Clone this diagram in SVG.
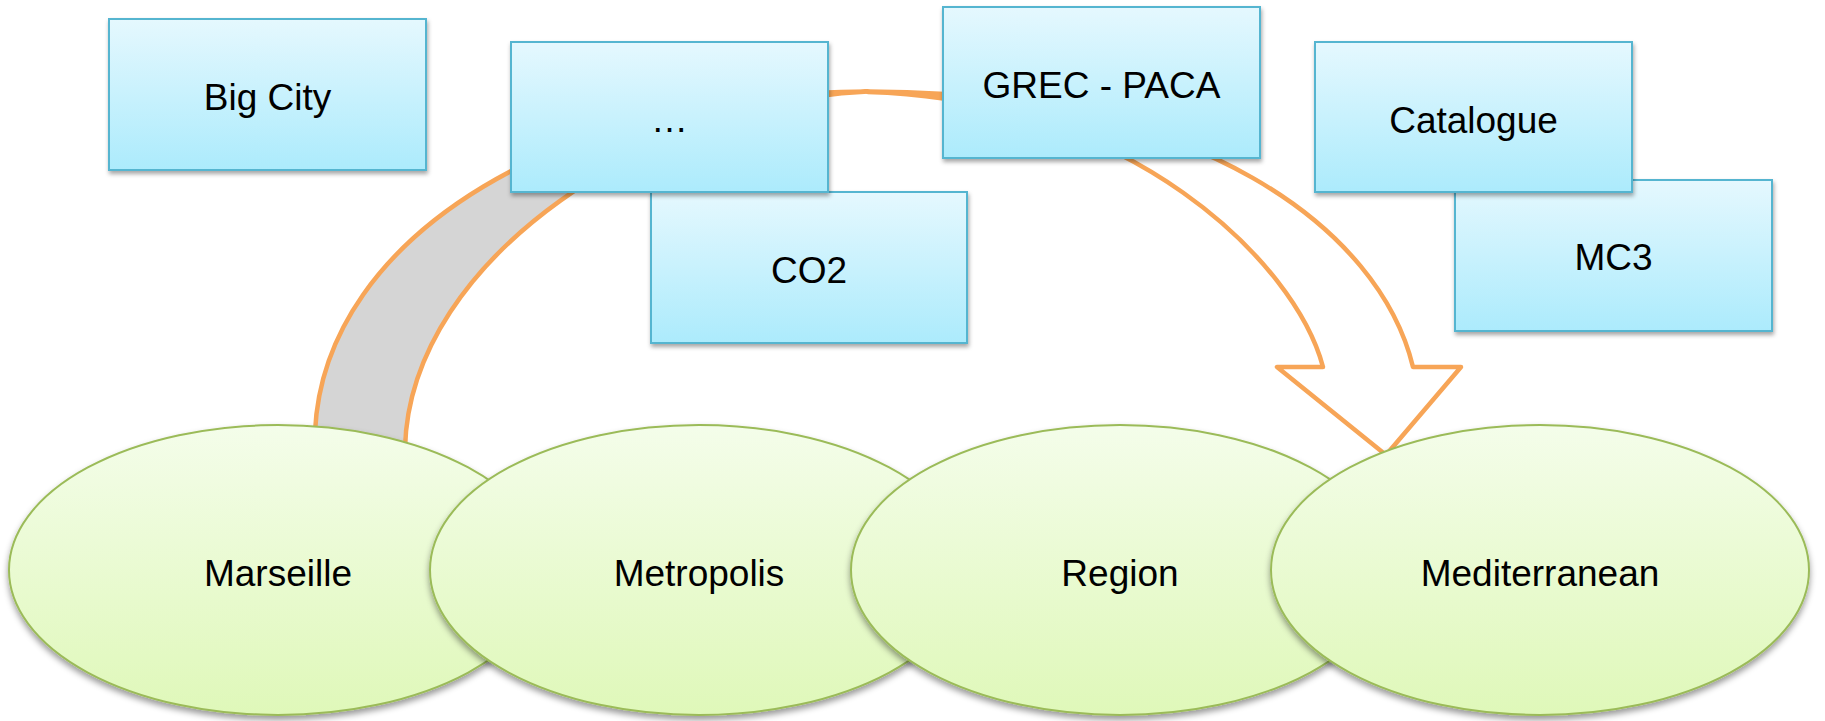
<svg xmlns="http://www.w3.org/2000/svg" width="1825" height="721" viewBox="0 0 1825 721">
<defs>
<linearGradient id="gBox" x1="0" y1="0" x2="0" y2="1">
<stop offset="0" stop-color="#e5f8fe"/>
<stop offset="1" stop-color="#acebfc"/>
</linearGradient>
<linearGradient id="gEll" x1="0" y1="0" x2="0" y2="1">
<stop offset="0" stop-color="#f4fdea"/>
<stop offset="1" stop-color="#dff8b9"/>
</linearGradient>
<filter id="shBox" x="-10%" y="-10%" width="120%" height="130%">
<feDropShadow dx="1" dy="3" stdDeviation="2" flood-color="#000" flood-opacity="0.35"/>
</filter>
<filter id="shEll" x="-10%" y="-10%" width="120%" height="130%">
<feDropShadow dx="0" dy="4" stdDeviation="3" flood-color="#000" flood-opacity="0.4"/>
</filter>
</defs>
<style>
.box{fill:url(#gBox);stroke:#55b5d0;stroke-width:2;filter:url(#shBox)}
.ell{fill:url(#gEll);stroke:#9bbb59;stroke-width:2;filter:url(#shEll)}
.lbl{font-family:"Liberation Sans",Arial,sans-serif;font-size:37px;fill:#000;text-anchor:middle}
.arr{stroke:#f7a557;stroke-width:4.5;stroke-linejoin:round}
</style>
<rect width="1825" height="721" fill="#fff"/>
<g id="connectors">
<path class="arr" fill="#d5d5d5" d="M315,432 C324,232 570,91.5 868,91.5 C660,100 410,255 405,448 Z"/>
<path class="arr" fill="#fff" d="M868,91.5 C1200,91.5 1380,230 1413,367 L1461,367 L1386,455 L1277,367 L1323,367 C1295,262 1130,99 868,92 Z"/>
</g>
<g id="node-bigcity"><rect class="box" x="109" y="19" width="317" height="151"/><text class="lbl" x="267.5" y="109.5">Big City</text></g>
<g id="node-co2"><rect class="box" x="651" y="192" width="316" height="151"/><text class="lbl" x="809" y="283">CO2</text></g>
<g id="node-etc"><rect class="box" x="511" y="42" width="317" height="150"/><text class="lbl" x="669.5" y="132">…</text></g>
<g id="node-grec"><rect class="box" x="943" y="7" width="317" height="151"/><text class="lbl" x="1101.5" y="97.5">GREC - PACA</text></g>
<g id="node-mc3"><rect class="box" x="1455" y="180" width="317" height="151"/><text class="lbl" x="1613.5" y="269.5">MC3</text></g>
<g id="node-catalogue"><rect class="box" x="1315" y="42" width="317" height="150"/><text class="lbl" x="1473.5" y="132.5">Catalogue</text></g>
<g id="node-marseille"><ellipse class="ell" cx="278" cy="570" rx="269" ry="145"/><text class="lbl" x="278" y="585.5">Marseille</text></g>
<g id="node-metropolis"><ellipse class="ell" cx="699" cy="570" rx="269" ry="145"/><text class="lbl" x="699" y="585.5">Metropolis</text></g>
<g id="node-region"><ellipse class="ell" cx="1120" cy="570" rx="269" ry="145"/><text class="lbl" x="1120" y="585.5">Region</text></g>
<g id="node-mediterranean"><ellipse class="ell" cx="1540" cy="570" rx="269" ry="145"/><text class="lbl" x="1540" y="585.5">Mediterranean</text></g>
</svg>
